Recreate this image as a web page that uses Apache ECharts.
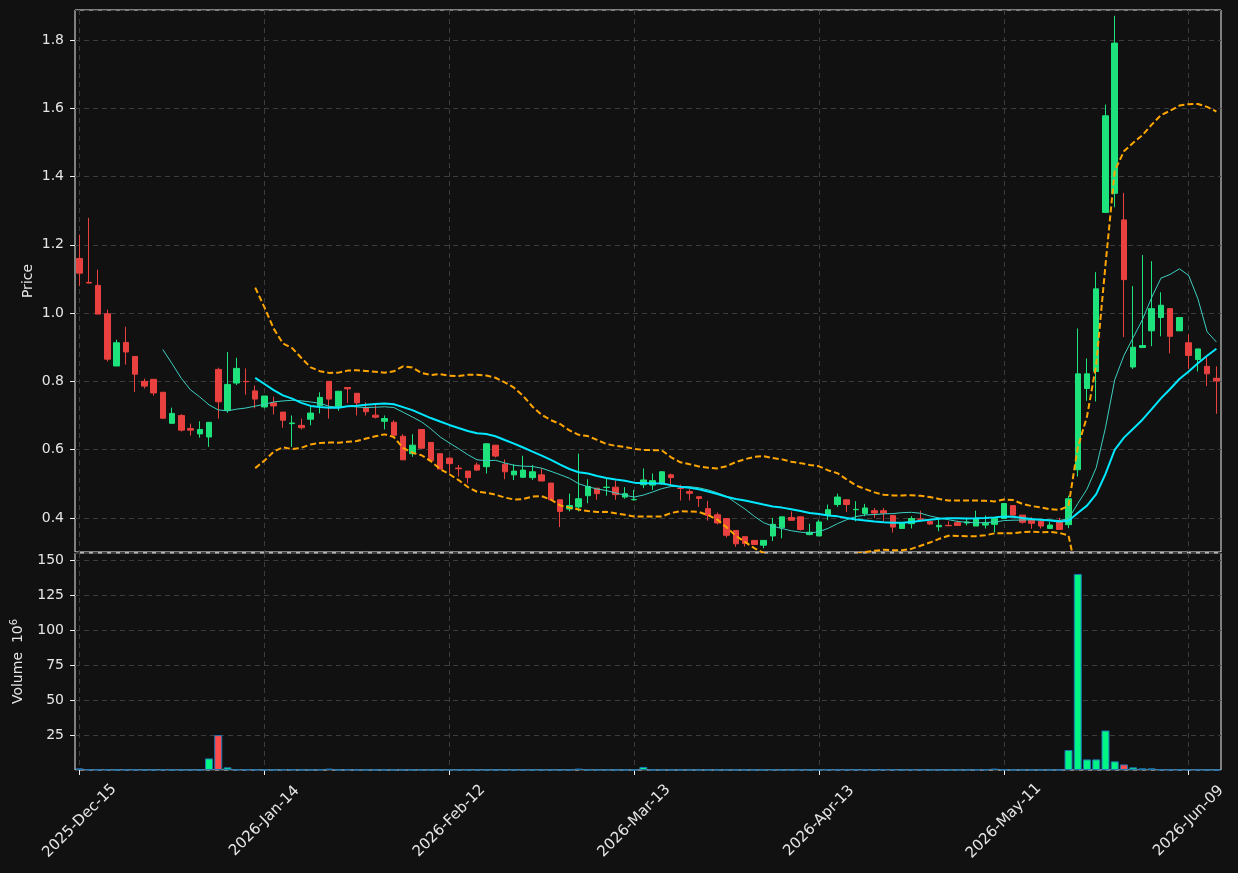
<!DOCTYPE html>
<html>
<head>
<meta charset="utf-8">
<script src="https://cdn.jsdelivr.net/npm/echarts@6/dist/echarts.min.js"></script>
<style>
  html, body { margin: 0; padding: 0; background: #111111; }
  #main { width: 1238px; height: 873px; }
</style>
</head>
<body>
<div id="main"></div>
<script>
// trading days, by month
const months = [
  ['2025', 'Dec', [15, 16, 17, 18, 19, 22, 23, 24, 26, 29, 30, 31]],
  ['2026', 'Jan', [2, 5, 6, 7, 8, 9, 12, 13, 14, 15, 16, 20, 21, 22, 23, 26, 27, 28, 29, 30]],
  ['2026', 'Feb', [2, 3, 4, 5, 6, 9, 10, 11, 12, 13, 17, 18, 19, 20, 23, 24, 25, 26, 27]],
  ['2026', 'Mar', [2, 3, 4, 5, 6, 9, 10, 11, 12, 13, 16, 17, 18, 19, 20, 23, 24, 25, 26, 27, 30, 31]],
  ['2026', 'Apr', [1, 2, 6, 7, 8, 9, 10, 13, 14, 15, 16, 17, 20, 21, 22, 23, 24, 27, 28, 29, 30]],
  ['2026', 'May', [1, 4, 5, 6, 7, 8, 11, 12, 13, 14, 15, 18, 19, 20, 21, 22, 26, 27, 28, 29]],
  ['2026', 'Jun', [1, 2, 3, 4, 5, 8, 9, 10, 11, 12]]
];
const dates = [];
months.forEach(([y, m, days]) => days.forEach(d => dates.push(y + '-' + m + '-' + String(d).padStart(2, '0'))));

const openP = [
  1.160, 1.090, 1.081, 0.998, 0.845, 0.914, 0.873, 0.800, 0.806, 0.768,
  0.677, 0.700, 0.662, 0.646, 0.637, 0.835, 0.715, 0.795, 0.800, 0.772,
  0.725, 0.737, 0.710, 0.676, 0.671, 0.689, 0.729, 0.800, 0.726, 0.782,
  0.765, 0.722, 0.701, 0.683, 0.680, 0.639, 0.588, 0.659, 0.621, 0.588,
  0.575, 0.546, 0.537, 0.555, 0.550, 0.613, 0.557, 0.526, 0.519, 0.518,
  0.526, 0.502, 0.453, 0.426, 0.432, 0.465, 0.487, 0.489, 0.490, 0.461,
  0.453, 0.497, 0.496, 0.500, 0.526, 0.487, 0.477, 0.462, 0.427, 0.409,
  0.398, 0.363, 0.345, 0.334, 0.320, 0.347, 0.371, 0.401, 0.403, 0.351,
  0.347, 0.407, 0.439, 0.453, 0.424, 0.413, 0.421, 0.421, 0.407, 0.369,
  0.383, 0.397, 0.389, 0.374, 0.378, 0.386, 0.385, 0.376, 0.379, 0.381,
  0.398, 0.436, 0.408, 0.393, 0.390, 0.369, 0.390, 0.380, 0.541, 0.779,
  0.829, 1.295, 1.351, 1.273, 0.842, 0.899, 0.948, 0.987, 1.013, 0.948,
  0.913, 0.864, 0.844, 0.809
];
const highP = [
  1.230, 1.279, 1.127, 1.010, 0.922, 0.960, 0.873, 0.808, 0.806, 0.768,
  0.723, 0.704, 0.676, 0.683, 0.680, 0.840, 0.886, 0.869, 0.838, 0.788,
  0.757, 0.755, 0.710, 0.700, 0.691, 0.727, 0.768, 0.800, 0.771, 0.782,
  0.765, 0.738, 0.731, 0.700, 0.686, 0.645, 0.645, 0.659, 0.621, 0.588,
  0.579, 0.555, 0.537, 0.562, 0.619, 0.613, 0.571, 0.557, 0.582, 0.555,
  0.545, 0.502, 0.453, 0.471, 0.588, 0.513, 0.487, 0.516, 0.509, 0.490,
  0.482, 0.545, 0.530, 0.537, 0.530, 0.497, 0.484, 0.462, 0.450, 0.416,
  0.398, 0.363, 0.345, 0.334, 0.334, 0.400, 0.403, 0.419, 0.403, 0.383,
  0.395, 0.439, 0.471, 0.453, 0.449, 0.441, 0.429, 0.429, 0.407, 0.386,
  0.405, 0.421, 0.389, 0.397, 0.390, 0.392, 0.400, 0.421, 0.407, 0.398,
  0.442, 0.436, 0.408, 0.402, 0.397, 0.388, 0.400, 0.465, 0.955, 0.867,
  1.120, 1.611, 1.871, 1.352, 1.079, 1.170, 1.152, 1.061, 1.013, 0.987,
  0.938, 0.895, 0.874, 0.844
];
const lowP = [
  1.079, 1.087, 0.997, 0.858, 0.845, 0.849, 0.769, 0.779, 0.758, 0.690,
  0.677, 0.653, 0.641, 0.635, 0.608, 0.691, 0.708, 0.789, 0.761, 0.721,
  0.721, 0.703, 0.664, 0.608, 0.659, 0.671, 0.706, 0.691, 0.714, 0.737,
  0.700, 0.700, 0.691, 0.659, 0.642, 0.570, 0.579, 0.604, 0.568, 0.543,
  0.532, 0.521, 0.501, 0.538, 0.530, 0.577, 0.513, 0.511, 0.518, 0.511,
  0.508, 0.453, 0.373, 0.419, 0.419, 0.443, 0.453, 0.465, 0.453, 0.456,
  0.451, 0.487, 0.482, 0.497, 0.497, 0.451, 0.451, 0.432, 0.392, 0.381,
  0.342, 0.315, 0.316, 0.322, 0.311, 0.332, 0.340, 0.393, 0.363, 0.349,
  0.347, 0.393, 0.432, 0.417, 0.390, 0.405, 0.400, 0.390, 0.357, 0.369,
  0.369, 0.390, 0.380, 0.361, 0.376, 0.378, 0.378, 0.376, 0.369, 0.357,
  0.398, 0.408, 0.383, 0.368, 0.369, 0.369, 0.366, 0.370, 0.521, 0.743,
  0.741, 1.295, 1.310, 0.930, 0.836, 0.899, 0.903, 0.932, 0.882, 0.948,
  0.836, 0.829, 0.786, 0.705
];
const closeP = [
  1.117, 1.088, 0.997, 0.865, 0.913, 0.886, 0.821, 0.786, 0.766, 0.692,
  0.706, 0.657, 0.657, 0.659, 0.680, 0.740, 0.791, 0.838, 0.799, 0.748,
  0.757, 0.728, 0.686, 0.678, 0.664, 0.707, 0.753, 0.748, 0.771, 0.778,
  0.737, 0.711, 0.695, 0.691, 0.642, 0.570, 0.613, 0.604, 0.568, 0.543,
  0.559, 0.544, 0.518, 0.540, 0.617, 0.581, 0.535, 0.537, 0.540, 0.535,
  0.508, 0.453, 0.419, 0.436, 0.456, 0.492, 0.471, 0.490, 0.468, 0.471,
  0.454, 0.511, 0.509, 0.535, 0.518, 0.486, 0.472, 0.457, 0.407, 0.385,
  0.349, 0.324, 0.325, 0.322, 0.334, 0.381, 0.403, 0.393, 0.366, 0.358,
  0.388, 0.424, 0.461, 0.439, 0.425, 0.429, 0.414, 0.414, 0.373, 0.386,
  0.398, 0.396, 0.382, 0.378, 0.377, 0.378, 0.388, 0.397, 0.384, 0.398,
  0.442, 0.408, 0.387, 0.384, 0.376, 0.379, 0.366, 0.456, 0.822, 0.822,
  1.071, 1.578, 1.791, 1.098, 0.900, 0.905, 1.013, 1.023, 0.932, 0.987,
  0.876, 0.895, 0.822, 0.801
];
// volume in millions
const volume = [
  1.2, 0.3, 0.3, 0.3, 0.05, 0.3, 0.3, 0.05, 0.05, 0.3,
  0.05, 0.05, 0.05, 0.05, 8.3, 25.0, 1.9, 0.3, 0.3, 0.3,
  0.05, 0.05, 0.3, 0.3, 0.05, 0.05, 0.3, 1.0, 0.05, 0.3,
  0.05, 0.05, 0.05, 0.05, 0.05, 0.05, 0.05, 0.05, 0.05, 0.05,
  0.05, 0.05, 0.05, 0.05, 0.05, 0.05, 0.05, 0.05, 0.05, 0.05,
  0.05, 0.05, 0.05, 0.05, 1.0, 0.05, 0.05, 0.05, 0.05, 0.05,
  0.05, 2.2, 0.05, 0.05, 0.05, 0.05, 0.05, 0.05, 0.05, 0.05,
  0.05, 0.05, 0.05, 0.05, 0.05, 0.3, 0.05, 0.05, 0.3, 0.05,
  0.05, 0.3, 0.3, 0.3, 0.3, 0.3, 0.05, 0.3, 0.3, 0.05,
  0.3, 0.3, 0.05, 0.05, 0.05, 0.05, 0.05, 0.3, 0.3, 1.0,
  0.3, 0.05, 0.05, 0.05, 0.05, 0.05, 0.05, 14.3, 140.5, 7.6,
  7.6, 28.3, 6.2, 4.0, 1.9, 1.2, 1.2, 0.3, 0.3, 0.3,
  0.3, 0.3, 0.05, 0.05
];

const UP = '#1ee27c', DOWN = '#e8413f';
const VUP = '#00f585', VDOWN = '#ff4b4b';

// moving averages and bands from the closes
function sma(n) {
  return closeP.map((_, i) => {
    if (i < n - 1) return '-';
    let s = 0;
    for (let k = i - n + 1; k <= i; k++) s += closeP[k];
    return s / n;
  });
}
const ma10 = sma(10);
const ma20 = sma(20);
const bandUp = [], bandLo = [];
closeP.forEach((_, i) => {
  if (i < 19) { bandUp.push('-'); bandLo.push('-'); return; }
  let v = 0;
  for (let k = i - 19; k <= i; k++) v += (closeP[k] - ma20[i]) ** 2;
  const sd = Math.sqrt(v / 20);
  bandUp.push(ma20[i] + 2 * sd);
  bandLo.push(ma20[i] - 2 * sd);
});

const candles = dates.map((_, i) => [openP[i], closeP[i], lowP[i], highP[i]]);
const volBars = volume.map((v, i) => ({
  value: v,
  itemStyle: { color: closeP[i] >= openP[i] ? VUP : VDOWN }
}));

const txt = '#e6e6e6';
const font = 'DejaVu Sans';
const every20 = (i) => i % 20 === 0;
const gridLine = { show: true, lineStyle: { color: '#3c3c3c', type: [5, 4], width: 1 } };

const chart = echarts.init(document.getElementById('main'));
chart.setOption({
  backgroundColor: '#111111',
  animation: false,
  textStyle: { fontFamily: font },
  grid: [
    { left: 75, right: 17, top: 10, height: 542, show: true, borderColor: '#eeeeee', borderWidth: 1, backgroundColor: 'transparent' },
    { left: 75, right: 17, top: 553, height: 217, show: true, borderColor: '#eeeeee', borderWidth: 1, backgroundColor: 'transparent' }
  ],
  xAxis: [
    {
      type: 'category', gridIndex: 0, data: dates, boundaryGap: true,
      axisLine: { show: false }, axisTick: { show: false }, axisLabel: { show: false },
      splitLine: Object.assign({ interval: every20, alignWithLabel: true }, gridLine)
    },
    {
      type: 'category', gridIndex: 1, data: dates, boundaryGap: true,
      axisLine: { show: false },
      axisTick: { show: true, interval: every20, alignWithLabel: true, length: 5, lineStyle: { color: '#eeeeee' } },
      axisLabel: {
        show: true, interval: every20, rotate: 45, align: 'center', verticalAlign: 'middle',
        color: txt, fontSize: 15, fontFamily: font, margin: 51
      },
      splitLine: Object.assign({ interval: every20, alignWithLabel: true }, gridLine)
    }
  ],
  yAxis: [
    {
      type: 'value', gridIndex: 0, min: 0.3, max: 1.888, splitNumber: 8, scale: true,
      name: 'Price', nameLocation: 'middle', nameRotate: 90, nameGap: 40, nameMoveOverlap: false,
      nameTextStyle: { color: txt, fontSize: 14, fontFamily: font },
      axisLine: { show: false },
      axisTick: { show: true, length: 5, lineStyle: { color: '#eeeeee' } },
      axisLabel: {
        color: txt, fontSize: 14, fontFamily: font, margin: 11, showMinLabel: false, showMaxLabel: false,
        formatter: (v) => v.toFixed(1)
      },
      splitLine: gridLine
    },
    {
      type: 'value', gridIndex: 1, min: 0, max: 155.5, interval: 25,
      name: 'Volume  10{sup|6}', nameLocation: 'middle', nameRotate: 90, nameGap: 48, nameMoveOverlap: false,
      nameTextStyle: {
        color: txt, fontSize: 14, fontFamily: font,
        rich: { sup: { fontSize: 10, color: txt, fontFamily: font, verticalAlign: 'top', padding: [0, 0, 8, 0] } }
      },
      axisLine: { show: false },
      axisTick: { show: true, length: 5, lineStyle: { color: '#eeeeee' } },
      axisLabel: { color: txt, fontSize: 14, fontFamily: font, margin: 11, showMinLabel: false, showMaxLabel: false },
      splitLine: gridLine
    }
  ],
  series: [
    {
      type: 'candlestick', xAxisIndex: 0, yAxisIndex: 0, data: candles, barWidth: 6,
      itemStyle: { color: UP, color0: DOWN, borderColor: UP, borderColor0: DOWN, borderWidth: 1 }
    },
    {
      type: 'line', xAxisIndex: 0, yAxisIndex: 0, data: ma10, symbol: 'none',
      lineStyle: { color: '#3ccfc0', width: 1 }
    },
    {
      type: 'line', xAxisIndex: 0, yAxisIndex: 0, data: ma20, symbol: 'none',
      lineStyle: { color: '#00e8ff', width: 2 }
    },
    {
      type: 'line', xAxisIndex: 0, yAxisIndex: 0, data: bandUp, symbol: 'none',
      lineStyle: { color: '#ffa500', width: 2, type: [6, 3] }
    },
    {
      type: 'line', xAxisIndex: 0, yAxisIndex: 0, data: bandLo, symbol: 'none',
      lineStyle: { color: '#ffa500', width: 2, type: [6, 3] }
    },
    {
      type: 'bar', xAxisIndex: 1, yAxisIndex: 1, data: volBars, barWidth: 8,
      itemStyle: { borderColor: '#1f77b4', borderWidth: 1 }
    }
  ]
});
</script>
</body>
</html>
